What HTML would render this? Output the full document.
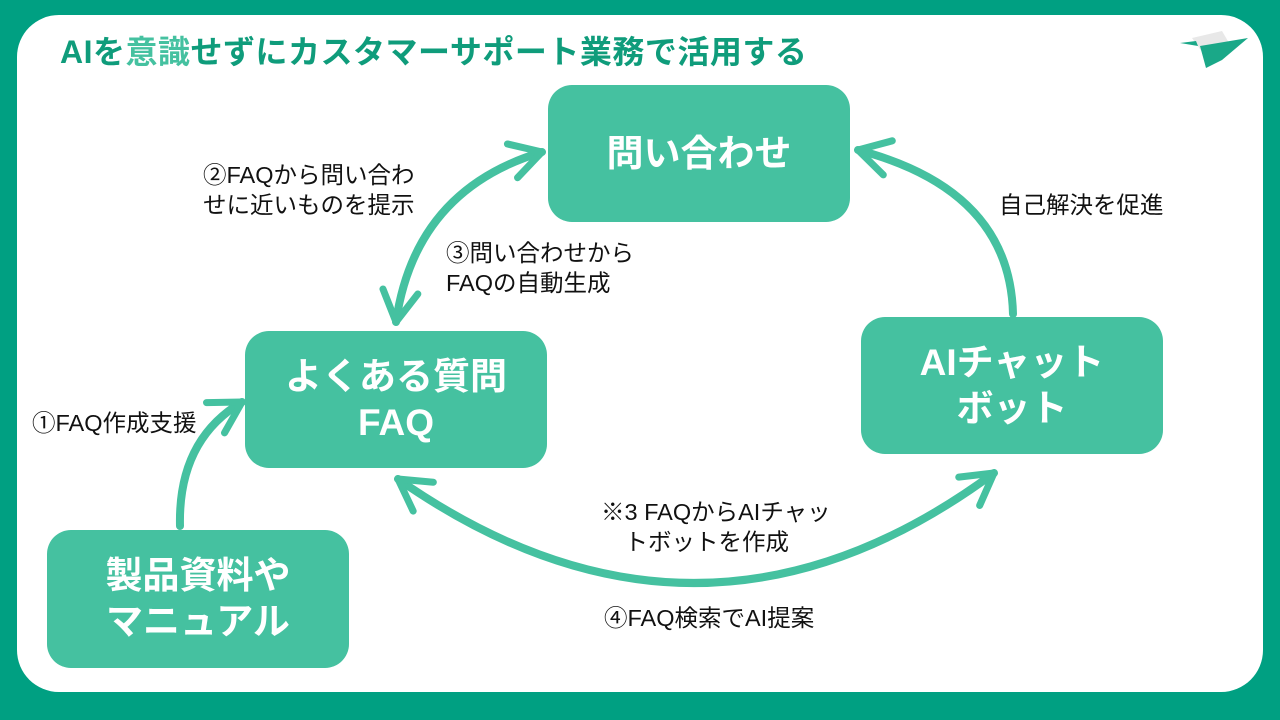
<!DOCTYPE html>
<html><head><meta charset="utf-8"><style>
html,body{margin:0;padding:0}
body{width:1280px;height:720px;background:#00a082;position:relative;overflow:hidden;font-family:"Liberation Sans","Noto Sans CJK JP",sans-serif}
.card{position:absolute;left:17px;top:15px;width:1246px;height:677px;background:#fff;border-radius:42px}
.t{position:absolute;left:60px;top:27px;font-size:32px;font-weight:bold;color:#0f9c7b;white-space:nowrap;letter-spacing:0.5px}
.t span{color:#45c1a0}
.box{position:absolute;background:#45c1a0;border-radius:24px;color:#fff;font-weight:bold;font-size:37px;display:flex;align-items:center;justify-content:center;text-align:center;line-height:46px}
.l{position:absolute;font-size:23.5px;color:#111;line-height:30px;white-space:nowrap}
svg{position:absolute;left:0;top:0}
</style></head><body>
<div class="card"></div>
<div class="t">AIを<span>意識</span>せずにカスタマーサポート業務で活用する</div>
<svg width="1280" height="720">
<defs>
<marker id="h" viewBox="0 0 20 20" refX="16" refY="10" markerWidth="5.5" markerHeight="5.5" orient="auto-start-reverse" markerUnits="strokeWidth">
<polyline points="2,2 16,10 2,18" fill="none" stroke="#45c1a0" stroke-width="3.2" stroke-linecap="round" stroke-linejoin="round"/>
</marker>
</defs>
<g fill="none" stroke="#45c1a0" stroke-width="8" stroke-linecap="round">
<path d="M396,322 Q415,190 542,152" marker-start="url(#h)" marker-end="url(#h)"/>
<path d="M1013,314 Q1010,190 858,150" marker-end="url(#h)"/>
<path d="M180,526 Q178,440 242,402" marker-end="url(#h)"/>
<path d="M398,479 Q700,690 994,473" marker-start="url(#h)" marker-end="url(#h)"/>
</g>
<polygon points="1192,38 1222,31 1232,48 1205,56" fill="#e8e8e8"/>
<polygon points="1180,43 1196,41 1198,46" fill="#1aa888"/>
<polygon points="1200,46 1248,38 1222,60 1206,68" fill="#1aa888"/>
</svg>
<div class="box" style="left:548px;top:85px;width:302px;height:137px">問い合わせ</div>
<div class="box" style="left:245px;top:331px;width:302px;height:137px">よくある質問<br>FAQ</div>
<div class="box" style="left:861px;top:317px;width:302px;height:137px">AIチャット<br>ボット</div>
<div class="box" style="left:47px;top:530px;width:302px;height:138px">製品資料や<br>マニュアル</div>
<div class="l" style="left:203px;top:160px">②FAQから問い合わ<br>せに近いものを提示</div>
<div class="l" style="left:446px;top:238px">③問い合わせから<br>FAQの自動生成</div>
<div class="l" style="left:999px;top:190px">自己解決を促進</div>
<div class="l" style="left:32px;top:408px">①FAQ作成支援</div>
<div class="l" style="left:601px;top:497px">※3 FAQからAIチャッ<br>　トボットを作成</div>
<div class="l" style="left:604px;top:603px">④FAQ検索でAI提案</div>
</body></html>
